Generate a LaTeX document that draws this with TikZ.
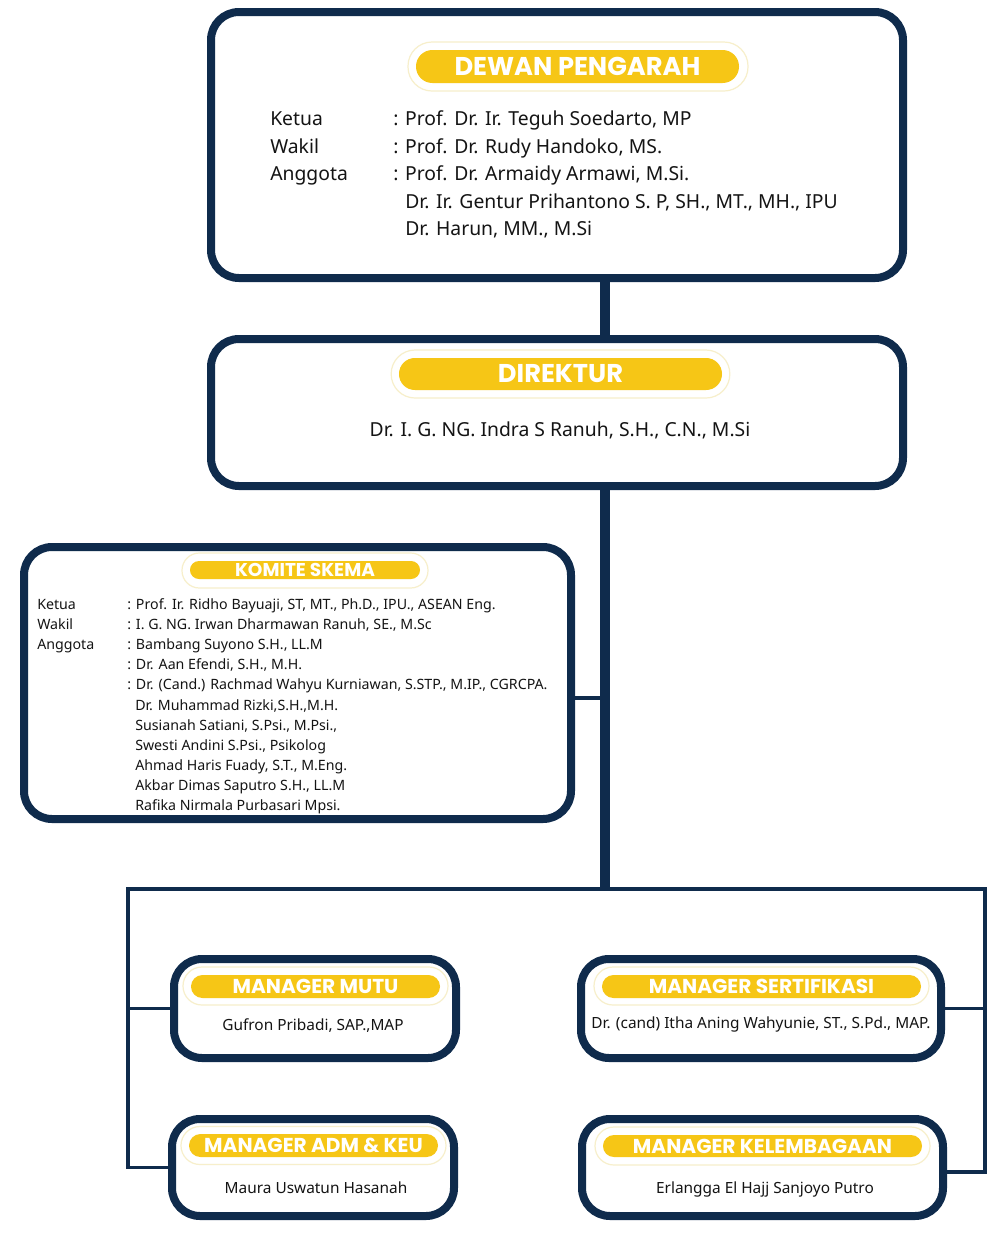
\documentclass[tikz,border=0pt]{standalone}
\usepackage{fontspec}
\setmainfont{Noto Sans}
\newfontfamily\popfont{Poppins}
\usetikzlibrary{calc}
\definecolor{navy}{HTML}{0F2B4C}
\definecolor{gold}{HTML}{F6C616}
\definecolor{halo}{HTML}{F7EFCB}
\definecolor{ink}{HTML}{141414}
\begin{document}
\begin{tikzpicture}[x=0.75pt,y=-0.75pt,
  orgbox/.style={draw=navy, line width=6pt, fill=white, rounded corners=21pt, inner sep=0pt},
  pillbox/.style={fill=gold, inner sep=0pt, text=white},
  halobox/.style={draw=halo, line width=0.9pt, inner sep=0pt},
  bigtitle/.style={font=\popfont\bfseries\fontsize{19.3}{22}\selectfont},
  midtitle/.style={font=\popfont\bfseries\fontsize{15.1}{18}\selectfont},
  smalltitle/.style={font=\popfont\bfseries\fontsize{13.9}{15}\selectfont},
  bodytext/.style={inner sep=0pt, text=ink, font=\fontsize{14.5}{16}\selectfont},
  komtext/.style={inner sep=0pt, text=ink, font=\fontsize{10.65}{13}\selectfont},
  mgrtext/.style={inner sep=0pt, text=ink, font=\fontsize{11.55}{14}\selectfont},
  spineline/.style={draw=navy, line width=7.5pt},
  thinline/.style={draw=navy, line width=2.4pt}
]
\useasboundingbox (0,0) rectangle (1000,1233);

% boxes
\node[orgbox, minimum width=519pt, minimum height=199.5pt] (dewan) at (557,145) {};
\node[orgbox, minimum width=519pt, minimum height=110.25pt] (direktur) at (557,412.5) {};
\node[orgbox, minimum width=410.25pt, minimum height=204pt] (komite) at (297.5,683) {};
\node[orgbox, minimum width=211.5pt, minimum height=74.25pt] (mutu) at (315,1008.5) {};
\node[orgbox, minimum width=211.5pt, minimum height=72.75pt] (adm) at (313,1167.5) {};
\node[orgbox, minimum width=270pt, minimum height=74.25pt] (sert) at (761,1008.5) {};
\node[orgbox, minimum width=270.75pt, minimum height=72.75pt] (lemb) at (762.5,1167.5) {};

% connectors
\coordinate (spine) at (605,0);
\coordinate (bus) at (605,889);
\coordinate (busL) at (128,889);
\coordinate (busR) at (985,889);
\draw[spineline] (dewan.south -| spine) -- (direktur.north -| spine);
\draw[spineline] (direktur.south -| spine) -- ([yshift=-1.5pt]bus);
\draw[thinline] ([yshift=-11.25pt]komite.east) -- ([yshift=-11.25pt]komite.east -| spine);
\draw[thinline] (adm.west) -| (busL) -- (busR) |- ([yshift=-3.4pt]lemb.east);
\draw[thinline] (mutu.west) -- (mutu.west -| busL);
\draw[thinline] (sert.east) -- (sert.east -| busR);

% pills
\node[halobox, rounded corners=18pt, minimum width=255pt, minimum height=36.75pt] (dewanhalo) at (578,66.5) {};
\node[pillbox, bigtitle, rounded corners=12.3pt, minimum width=242.25pt, minimum height=24.75pt] (dewanpill) at (577.5,66.5) {DEWAN PENGARAH};
\node[halobox, rounded corners=17.9pt, minimum width=254pt, minimum height=36pt] (direkturhalo) at (560.5,374) {};
\node[pillbox, bigtitle, rounded corners=11.9pt, minimum width=242.25pt, minimum height=24pt] (direkturpill) at (560.5,374) {DIREKTUR};
\node[halobox, rounded corners=13pt, minimum width=184.5pt, minimum height=26.25pt] (komitehalo) at (305,570.5) {};
\node[pillbox, smalltitle, rounded corners=6.7pt, minimum width=172.5pt, minimum height=13.5pt] (komitepill) at (305,570) {KOMITE SKEMA};
\node[halobox, rounded corners=14.2pt, minimum width=198.75pt, minimum height=28.5pt] (mutuhalo) at (315.5,986) {};
\node[pillbox, midtitle, rounded corners=8.6pt, minimum width=186.75pt, minimum height=17.25pt] (mutupill) at (315.5,986.5) {MANAGER MUTU};
\node[halobox, rounded corners=14.2pt, minimum width=198.75pt, minimum height=28.5pt] (admhalo) at (313.5,1145.5) {};
\node[pillbox, midtitle, rounded corners=8.6pt, minimum width=186.75pt, minimum height=17.25pt] (admpill) at (313.5,1145.5) {MANAGER ADM \& KEU};
\node[halobox, rounded corners=14.2pt, minimum width=251.25pt, minimum height=28.5pt] (serthalo) at (761.5,986) {};
\node[pillbox, midtitle, rounded corners=8.6pt, minimum width=239.25pt, minimum height=17.25pt] (sertpill) at (761.5,986.5) {MANAGER SERTIFIKASI};
\node[halobox, rounded corners=14.2pt, minimum width=251.25pt, minimum height=28.5pt] (lembhalo) at (762.5,1146) {};
\node[pillbox, midtitle, rounded corners=8.2pt, minimum width=239.25pt, minimum height=16.5pt] (lembpill) at (762.5,1146) {MANAGER KELEMBAGAAN};

% Dewan text
\node[bodytext, anchor=base west] (dl1) at (270,125) {Ketua};
\node[bodytext, anchor=base west] (dl2) at (270,153) {Wakil};
\node[bodytext, anchor=base west] (dl3) at (270,180) {Anggota};
\node[bodytext, anchor=base west] (dn1) at (393,125) {: Prof. Dr. Ir. Teguh Soedarto, MP};
\node[bodytext, anchor=base west] (dn2) at (393,153) {: Prof. Dr. Rudy Handoko, MS.};
\node[bodytext, anchor=base west] (dn3) at (393,180) {: Prof. Dr. Armaidy Armawi, M.Si.};
\node[bodytext, anchor=base west] (dn4) at (405,208) {Dr. Ir. Gentur Prihantono S. P, SH., MT., MH., IPU};
\node[bodytext, anchor=base west] (dn5) at (405,235) {Dr. Harun, MM., M.Si};

% Direktur text
\node[bodytext, anchor=base] (dirname) at (560,436) {Dr. I. G. NG. Indra S Ranuh, S.H., C.N., M.Si};

% Komite text
\node[komtext, anchor=base west] (kl1) at (37,609) {Ketua};
\node[komtext, anchor=base west] (kl2) at (37,629) {Wakil};
\node[komtext, anchor=base west] (kl3) at (37,649) {Anggota};
\node[komtext, anchor=base west] (kn1) at (127,609) {: Prof. Ir. Ridho Bayuaji, ST, MT., Ph.D., IPU., ASEAN Eng.};
\node[komtext, anchor=base west] (kn2) at (127,629) {: I. G. NG. Irwan Dharmawan Ranuh, SE., M.Sc};
\node[komtext, anchor=base west] (kn3) at (127,649) {: Bambang Suyono S.H., LL.M};
\node[komtext, anchor=base west] (kn4) at (127,669) {: Dr. Aan Efendi, S.H., M.H.};
\node[komtext, anchor=base west] (kn5) at (127,689) {: Dr. (Cand.) Rachmad Wahyu Kurniawan, S.STP., M.IP., CGRCPA.};
\node[komtext, anchor=base west] (kn6) at (135,710) {Dr. Muhammad Rizki,S.H.,M.H.};
\node[komtext, anchor=base west] (kn7) at (135,730) {Susianah Satiani, S.Psi., M.Psi.,};
\node[komtext, anchor=base west] (kn8) at (135,750) {Swesti Andini S.Psi., Psikolog};
\node[komtext, anchor=base west] (kn9) at (135,770) {Ahmad Haris Fuady, S.T., M.Eng.};
\node[komtext, anchor=base west] (kn10) at (135,790) {Akbar Dimas Saputro S.H., LL.M};
\node[komtext, anchor=base west] (kn11) at (135,810) {Rafika Nirmala Purbasari Mpsi.};

% Manager names
\node[mgrtext, anchor=base] (mutuname) at (313,1030) {Gufron Pribadi, SAP.,MAP};
\node[mgrtext, anchor=base] (admname) at (316,1193) {Maura Uswatun Hasanah};
\node[mgrtext, anchor=base] (sertname) at (761,1028) {Dr. (cand) Itha Aning Wahyunie, ST., S.Pd., MAP.};
\node[mgrtext, anchor=base] (lembname) at (765,1193) {Erlangga El Hajj Sanjoyo Putro};
\end{tikzpicture}
\end{document}
